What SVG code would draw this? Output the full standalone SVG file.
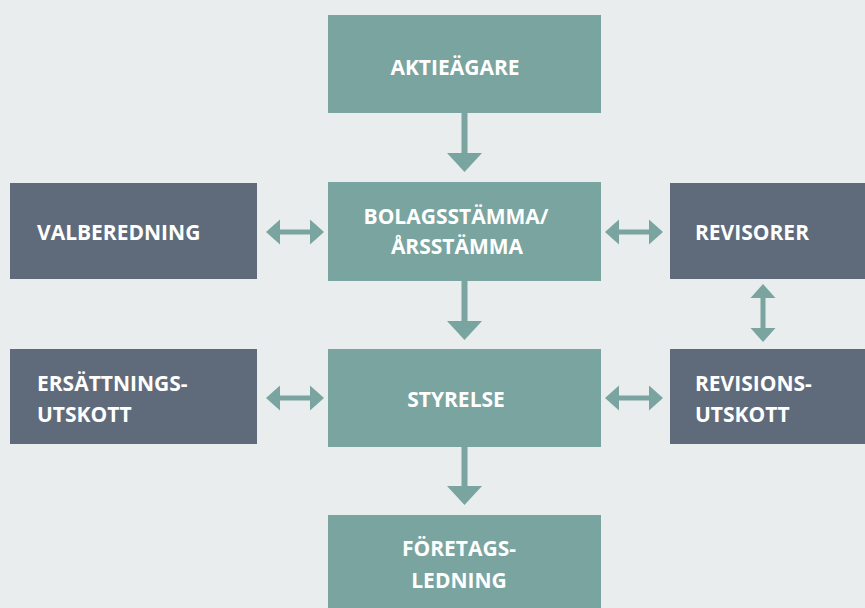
<svg xmlns="http://www.w3.org/2000/svg" width="865" height="608" viewBox="0 0 865 608">
<style>
.bg{fill:#E9EDED}
.teal{fill:#7AA49F}
.slate{fill:#5F6B7A}
.arr{fill:#7AA49F}
text{font-family:"Open Sans","Liberation Sans",sans-serif;font-weight:700;font-size:21px;fill:#FFFFFF}
.c{text-anchor:middle}
</style>
<rect class="bg" x="0" y="0" width="865" height="608"/>
<g id="connectors">
<polygon class="arr" points="461.5,113 467.5,113 467.5,153 482,153 464.5,172 447,153 461.5,153"/>
<polygon class="arr" points="461.5,281 467.5,281 467.5,321 482,321 464.5,340 447,321 461.5,321"/>
<polygon class="arr" points="461.5,447 467.5,447 467.5,486 482,486 464.5,505 447,486 461.5,486"/>
<polygon class="arr" points="266,232 280,219.5 280,229.5 310,229.5 310,219.5 324,232 310,244.5 310,234.5 280,234.5 280,244.5"/>
<polygon class="arr" points="266,398 280,385.5 280,395.5 310,395.5 310,385.5 324,398 310,410.5 310,400.5 280,400.5 280,410.5"/>
<polygon class="arr" points="605,232 619,219.5 619,229.5 649,229.5 649,219.5 663,232 649,244.5 649,234.5 619,234.5 619,244.5"/>
<polygon class="arr" points="605,398 619,385.5 619,395.5 649,395.5 649,385.5 663,398 649,410.5 649,400.5 619,400.5 619,410.5"/>
<polygon class="arr" points="763,284 775.5,298 765.5,298 765.5,328 775.5,328 763,342 750.5,328 760.5,328 760.5,298 750.5,298"/>
</g>
<g id="aktieagare">
<rect class="teal" x="328" y="15" width="273" height="98"/>
<text class="c" x="455" y="75">AKTIEÄGARE</text>
</g>
<g id="valberedning">
<rect class="slate" x="10" y="183" width="247" height="96"/>
<text x="37" y="240">VALBEREDNING</text>
</g>
<g id="bolagsstamma">
<rect class="teal" x="328" y="182" width="273" height="99"/>
<text class="c" x="456" y="224">BOLAGSSTÄMMA/</text>
<text class="c" x="457" y="254">ÅRSSTÄMMA</text>
</g>
<g id="revisorer">
<rect class="slate" x="670" y="183" width="195" height="96"/>
<text x="695" y="240">REVISORER</text>
</g>
<g id="ersattningsutskott">
<rect class="slate" x="10" y="349" width="247" height="95"/>
<text x="37" y="391">ERSÄTTNINGS-</text>
<text x="37" y="422">UTSKOTT</text>
</g>
<g id="styrelse">
<rect class="teal" x="328" y="349" width="273" height="98"/>
<text class="c" x="456" y="407">STYRELSE</text>
</g>
<g id="revisionsutskott">
<rect class="slate" x="670" y="349" width="195" height="95"/>
<text x="695" y="391">REVISIONS-</text>
<text x="695" y="422">UTSKOTT</text>
</g>
<g id="foretagsledning">
<rect class="teal" x="328" y="515" width="273" height="93"/>
<text class="c" x="459" y="556">FÖRETAGS-</text>
<text class="c" x="459" y="588">LEDNING</text>
</g>
</svg>
